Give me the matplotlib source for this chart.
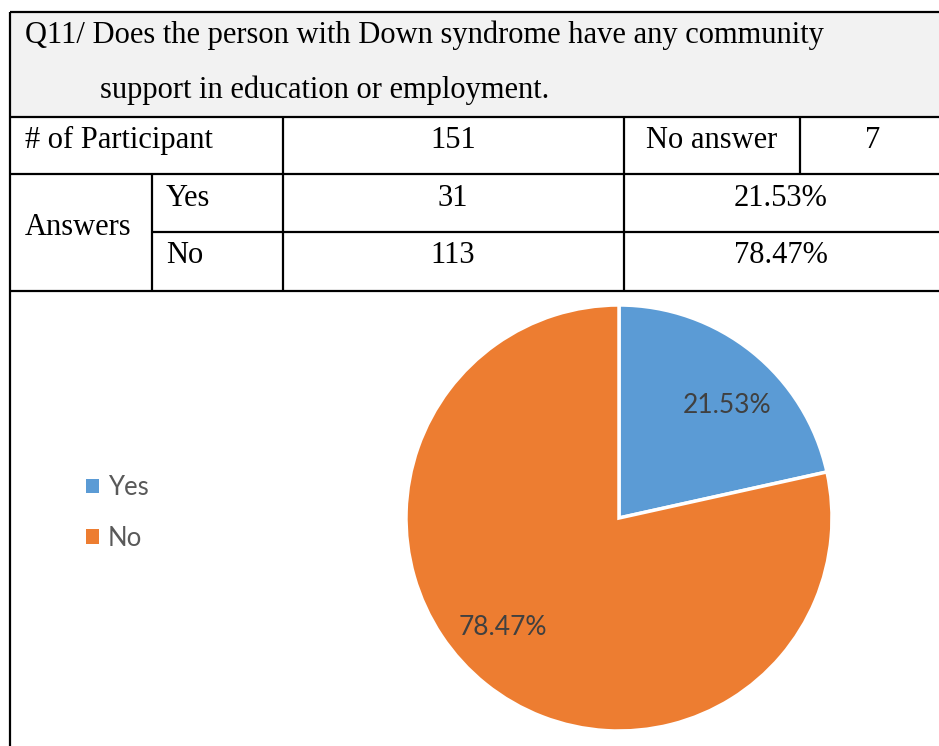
import matplotlib
matplotlib.use("Agg")
import matplotlib.pyplot as plt
from matplotlib.patches import Rectangle, Patch

# Данные опроса
question = ["Q11/ Does the person with Down syndrome have any community",
            "support in education or employment."]
participants = 151
no_answer = 7
answer_labels = ["Yes", "No"]
answer_counts = [31, 113]
answer_pcts = [21.53, 78.47]
colors = ["#5b9bd5", "#ed7d31"]

W, H = 939, 746
fig = plt.figure(figsize=(W / 100, H / 100), dpi=100)

# таблица в пиксельных координатах
tab = fig.add_axes([0, 0, 1, 1])
tab.set_xlim(0, W)
tab.set_ylim(H, 0)
tab.axis("off")

tab.add_patch(Rectangle((10, 12), W - 10, 105, facecolor="#f2f2f2", edgecolor="none"))

lw = 1.6
serif = dict(family="Liberation Serif", fontsize=22, color="black", va="baseline")
tab.hlines([12, 117, 174, 291], 10, W + 5, color="black", lw=lw)
tab.hlines(232, 152, W + 5, color="black", lw=lw)
tab.vlines(10, 12, H + 5, color="black", lw=lw)
tab.vlines(152, 174, 291, color="black", lw=lw)
tab.vlines([283, 624], 117, 291, color="black", lw=lw)
tab.vlines(800, 117, 174, color="black", lw=lw)

tab.text(25, 43, question[0], ha="left", **serif)
tab.text(100, 98, question[1], ha="left", **serif)
tab.text(25, 148, "# of Participant", ha="left", **serif)
tab.text(453, 148, str(participants), ha="center", **serif)
tab.text(712, 148, "No answer", ha="center", **serif)
tab.text(873, 148, str(no_answer), ha="center", **serif)
tab.text(25, 235, "Answers", ha="left", **serif)
for i, y in enumerate([206, 263]):
    tab.text(166, y, answer_labels[i], ha="left", **serif)
    tab.text(453, y, str(answer_counts[i]), ha="center", **serif)
    tab.text(781, y, f"{answer_pcts[i]:.2f}%", ha="center", **serif)

# круговая диаграмма
cx, cy, r = 619, 518, 213
pie_ax = fig.add_axes([(cx - r) / W, (H - cy - r) / H, 2 * r / W, 2 * r / H])
wedges, _, autotexts = pie_ax.pie(
    answer_pcts, colors=colors, startangle=90, counterclock=False,
    autopct="%.2f%%", pctdistance=0.74,
    wedgeprops=dict(edgecolor="white", linewidth=2.5),
    textprops=dict(family="Lato", fontsize=19, color="#404040"))
pie_ax.set_xlim(-1.0, 1.0)
pie_ax.set_ylim(-1.0, 1.0)
# подписи как в Excel (best fit)
autotexts[0].set_position((0.507, 0.53))
autotexts[1].set_position((-0.545, -0.516))

handles = [Patch(facecolor=c, edgecolor="none") for c in colors]
fig.legend(handles, answer_labels, loc="center left",
           bbox_to_anchor=(86 / W, 1 - 513 / H), frameon=False,
           borderpad=0, borderaxespad=0, handlelength=0.5, handleheight=0.5,
           handletextpad=0.35, labelspacing=1.0,
           prop=dict(family="Lato", size=18.5), labelcolor="#595959")

plt.savefig("out.png", dpi=100)
